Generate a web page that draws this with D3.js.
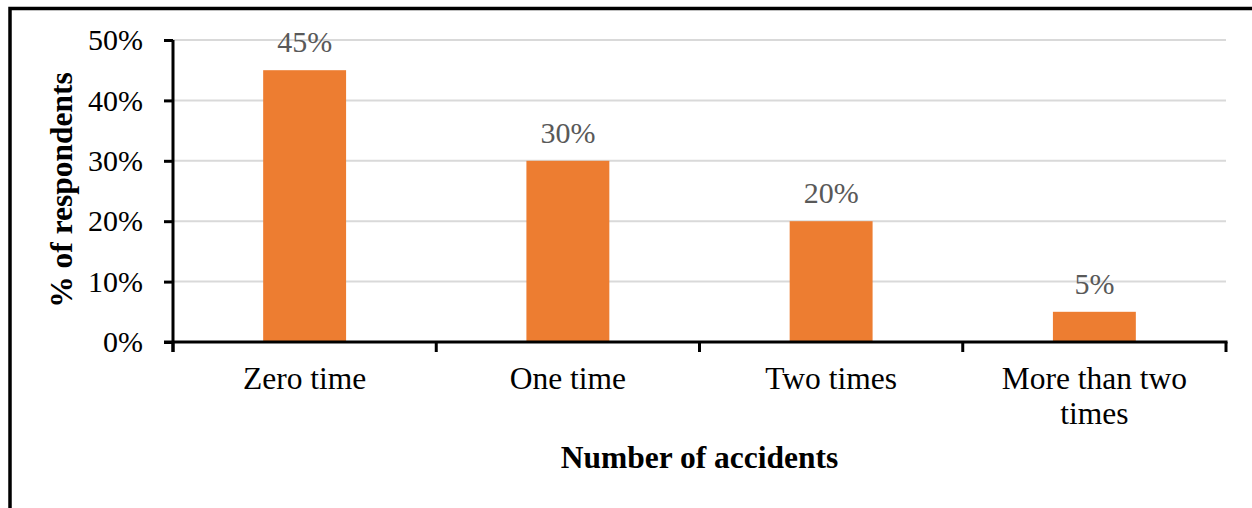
<!DOCTYPE html>
<html>
<head>
<meta charset="utf-8">
<script src="https://cdn.jsdelivr.net/npm/d3@7"></script>
<style>
  html, body { margin: 0; padding: 0; background: #fff; }
  svg { display: block; }
  text { font-family: "Liberation Serif", "Times New Roman", serif; }
</style>
</head>
<body>
<svg id="chart" width="1252" height="508"></svg>
<script>
// Survey results: number of accidents reported by respondents
const categories = ["Zero time", "One time", "Two times", "More than two times"];
const categoryLines = [["Zero time"], ["One time"], ["Two times"], ["More than two", "times"]];
const percentages = [45, 30, 20, 5];
const yTicks = [0, 10, 20, 30, 40, 50];

const svg = d3.select("#chart");
const W = 1252, H = 508;
const margin = { left: 173, right: 26, top: 40, bottom: 166 };
const plotW = W - margin.left - margin.right;
const plotH = H - margin.top - margin.bottom;

// Outer frame (left and top edges)
svg.append("path")
  .attr("d", `M10,${H} L10,8.5 L${W},8.5`)
  .attr("fill", "none")
  .attr("stroke", "#000")
  .attr("stroke-width", 3.5);

const g = svg.append("g").attr("transform", `translate(${margin.left},${margin.top})`);

const pInner = 0.685;
const x = d3.scaleBand()
  .domain(categories)
  .range([0, plotW])
  .paddingInner(pInner)
  .paddingOuter(pInner / 2);

const y = d3.scaleLinear().domain([0, 50]).range([plotH, 0]);

// Horizontal gridlines
g.append("g")
  .selectAll("line")
  .data(yTicks.filter(d => d > 0))
  .join("line")
  .attr("x1", 0).attr("x2", plotW)
  .attr("y1", d => y(d)).attr("y2", d => y(d))
  .attr("stroke", "#d9d9d9")
  .attr("stroke-width", 2);

// Bars
g.append("g")
  .selectAll("rect")
  .data(percentages)
  .join("rect")
  .attr("x", (d, i) => x(categories[i]))
  .attr("width", x.bandwidth())
  .attr("y", d => y(d))
  .attr("height", d => plotH - y(d))
  .attr("fill", "#ED7D31");

// Value labels
g.append("g")
  .selectAll("text")
  .data(percentages)
  .join("text")
  .attr("x", (d, i) => x(categories[i]) + x.bandwidth() / 2)
  .attr("y", d => y(d) - 18)
  .attr("text-anchor", "middle")
  .attr("fill", "#595959")
  .attr("font-size", 30)
  .text(d => d + "%");

// Y axis
const yAxis = g.append("g")
  .call(d3.axisLeft(y).tickValues(yTicks).tickFormat(d => d + "%").tickSize(9).tickPadding(21));
yAxis.select(".domain").attr("stroke", "#000").attr("stroke-width", 3).attr("d", `M0,${plotH + 10}V0`);
yAxis.selectAll(".tick line").attr("stroke", "#000").attr("stroke-width", 3);
yAxis.selectAll(".tick text")
  .attr("font-family", "Liberation Serif, Times New Roman, serif")
  .attr("font-size", 30)
  .attr("fill", "#000")
  .attr("dy", "0.32em");

// X axis baseline with category boundary ticks
const step = x.step();
const boundaries = d3.range(categories.length + 1).map(i => i * step);
g.append("line")
  .attr("x1", -9).attr("x2", plotW + 1.5)
  .attr("y1", plotH).attr("y2", plotH)
  .attr("stroke", "#000").attr("stroke-width", 3);
g.append("g")
  .selectAll("line")
  .data(boundaries)
  .join("line")
  .attr("x1", d => d).attr("x2", d => d)
  .attr("y1", plotH).attr("y2", plotH + 10)
  .attr("stroke", "#000").attr("stroke-width", 3);

// Category labels
const catText = g.append("g")
  .selectAll("text")
  .data(categories)
  .join("text")
  .attr("x", d => x(d) + x.bandwidth() / 2)
  .attr("y", plotH + 47)
  .attr("text-anchor", "middle")
  .attr("font-size", 31.5)
  .attr("fill", "#000");
catText.each(function(d, i) {
  d3.select(this).selectAll("tspan")
    .data(categoryLines[i])
    .join("tspan")
    .attr("x", x(d) + x.bandwidth() / 2)
    .attr("dy", (t, j) => j === 0 ? 0 : 35)
    .text(t => t);
});

// Axis titles
svg.append("text")
  .attr("x", margin.left + plotW / 2 + 0)
  .attr("y", 468)
  .attr("text-anchor", "middle")
  .attr("font-size", 31.5)
  .attr("font-weight", "bold")
  .attr("fill", "#000")
  .text("Number of accidents");

svg.append("text")
  .attr("transform", "translate(72,190) rotate(-90)")
  .attr("text-anchor", "middle")
  .attr("font-size", 31.5)
  .attr("font-weight", "bold")
  .attr("fill", "#000")
  .text("% of respondents");
</script>
</body>
</html>
